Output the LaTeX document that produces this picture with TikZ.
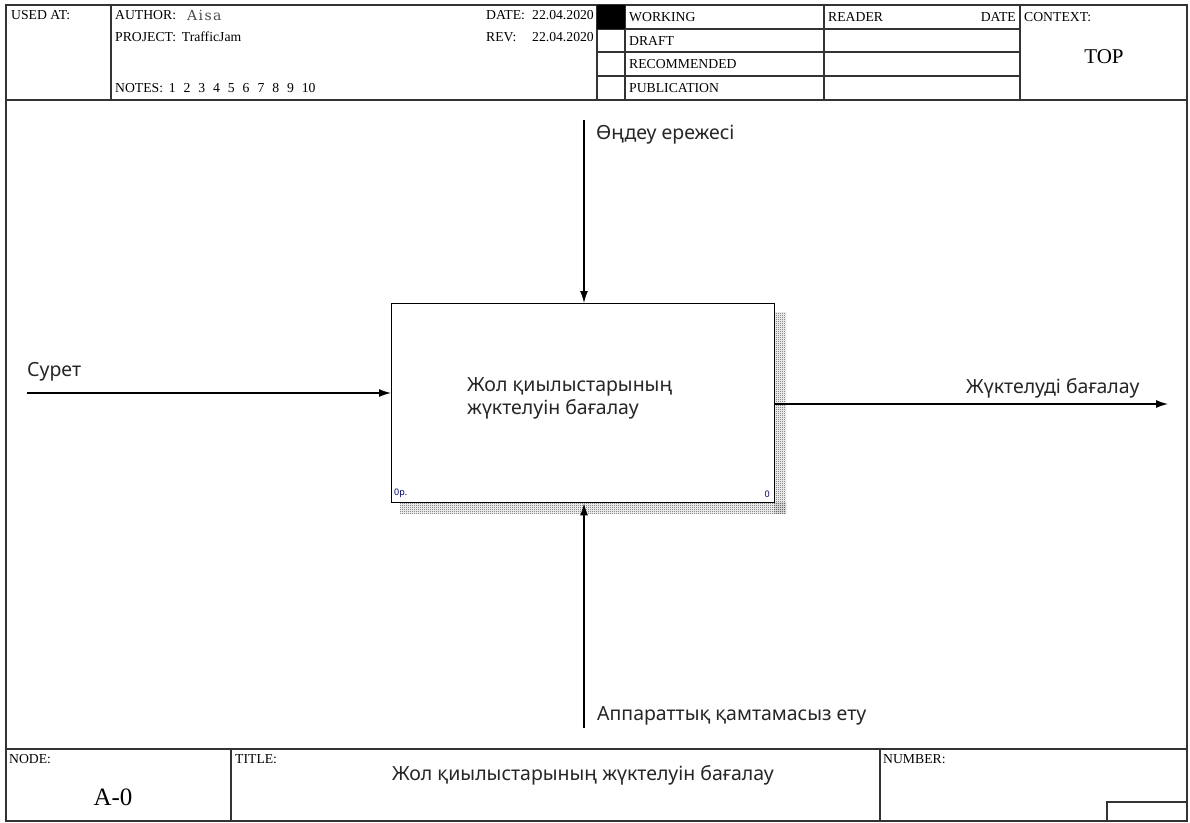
\documentclass[tikz,border=0pt]{standalone}
\usepackage{fontspec}
\setmainfont{Liberation Serif}
\newfontfamily\labelfont{Noto Sans}
\newfontfamily\namefont[LetterSpace=10]{DejaVu Serif}
\usetikzlibrary{arrows.meta,patterns}

% fine checkerboard used for the box shadow
\pgfdeclarepatternformonly{fineck}{\pgfqpoint{0pt}{0pt}}{\pgfqpoint{2pt}{2pt}}{\pgfqpoint{2pt}{2pt}}{%
  \pgfpathrectangle{\pgfpointorigin}{\pgfqpoint{1pt}{1pt}}%
  \pgfpathrectangle{\pgfqpoint{1pt}{1pt}}{\pgfqpoint{1pt}{1pt}}%
  \pgfusepath{fill}}

\tikzset{
  frame/.style={draw=black!80, line width=1.6pt},
  grid/.style={draw=black!80, line width=1.1pt},
  hdr/.style={font=\fontsize{13.7}{16}\selectfont, inner sep=0pt, anchor=west},
  lbl/.style={font=\labelfont\fontsize{19.5}{23}\selectfont, inner sep=0pt, text=black!85},
  arr/.style={line width=1.3pt, -{Latex[length=12pt,width=8pt]}},
  actbox/.style={draw, line width=1.4pt, fill=white, anchor=north west,
    minimum width=383pt, minimum height=199pt, inner sep=0pt},
  shadow/.style={pattern=fineck, pattern color=black!70},
  corner/.style={font=\labelfont\fontsize{9}{10}\selectfont, inner sep=0pt, text=blue!40!black}
}

\begin{document}
\begin{tikzpicture}[x=1pt, y=-1pt]
\useasboundingbox (0,0) rectangle (1190,822);

% outer frame
\draw[frame] (6,5) rectangle (1187,821);

% header block
\draw[frame] (6,100) -- (1187,100);
\foreach \xx in {111,597,625,824,1020} \draw[grid] (\xx,5) -- (\xx,100);
\foreach \yy in {29,52,76} \draw[grid] (597,\yy) -- (1020,\yy);
\fill[black] (597,5) rectangle (625,29);

\node[hdr] (usedat) at (11,15) {USED AT:};
\node[hdr] (author) at (115,15) {AUTHOR:};
\node[hdr, font=\namefont\fontsize{14}{16}\selectfont, text=black!70] (aisa) at (187,15) {Aisa};
\node[hdr] (project) at (115,37) {PROJECT:\, TrafficJam};
\node[hdr] (notes) at (115,88) {NOTES:\, 1\hspace{4.5pt} 2\hspace{4.5pt} 3\hspace{4.5pt} 4\hspace{4.5pt} 5\hspace{4.5pt} 6\hspace{4.5pt} 7\hspace{4.5pt} 8\hspace{4.5pt} 9\hspace{4.5pt} 10};
\node[hdr] (datelbl) at (486,15) {DATE:};
\node[hdr, anchor=east] (dateval) at (594,15) {22.04.2020};
\node[hdr] (revlbl) at (486,37) {REV:};
\node[hdr, anchor=east] (revval) at (594,37) {22.04.2020};

\node[hdr] (working) at (629,17) {WORKING};
\node[hdr] (draft) at (629,41) {DRAFT};
\node[hdr] (recommended) at (629,64) {RECOMMENDED};
\node[hdr] (publication) at (629,88) {PUBLICATION};
\node[hdr] (reader) at (828,17) {READER};
\node[hdr, anchor=east] (readerdate) at (1016,17) {DATE};
\node[hdr] (context) at (1024,17) {CONTEXT:};
\node[font=\fontsize{21}{24}\selectfont, inner sep=0pt] (top) at (1104,57) {TOP};

% footer block
\draw[frame] (6,749) -- (1187,749);
\draw[grid] (231,749) -- (231,822);
\draw[grid] (880,749) -- (880,822);
\draw[grid] (1107,822) -- (1107,802) -- (1187,802);

\node[hdr] (nodelbl) at (9,759) {NODE:};
\node[hdr] (titlelbl) at (235,759) {TITLE:};
\node[hdr] (numberlbl) at (883,759) {NUMBER:};
\node[font=\fontsize{25}{28}\selectfont, inner sep=0pt] (nodeval) at (113,797) {A-0};
\node[lbl] (titleval) at (583,775) {Жол қиылыстарының жүктелуін бағалау};

% activity box with its hatched shadow
\fill[shadow] (774,312) rectangle (786,513);
\fill[shadow] (400,502) rectangle (786,513);
\node[actbox] (act) at (391,303) {};
\node[lbl, anchor=west, align=left] (acttext) at (467,398)
  {Жол қиылыстарының\\жүктелуін бағалау};
\node[corner, anchor=south west] (actref) at (394,498) {0р.};
\node[corner, anchor=south east] (actnum) at (770,498) {0};

% input
\coordinate (inS) at (27,393);
\draw[arr] (inS) -- (inS -| act.west);
\node[lbl, anchor=west] (inlbl) at (27,372) {Сурет};

% output
\coordinate (outE) at (1168,404);
\draw[arr] (outE -| act.east) -- (outE);
\node[lbl, anchor=west] (outlbl) at (966,388) {Жүктелуді бағалау};

% control
\coordinate (ctlS) at (584,120);
\draw[arr] (ctlS) -- (ctlS |- act.north);
\node[lbl, anchor=west] (ctllbl) at (596,135) {Өңдеу ережесі};

% mechanism
\coordinate (mechS) at (584,728);
\draw[arr] (mechS) -- (mechS |- act.south);
\node[lbl, anchor=west] (mechlbl) at (597,716) {Аппараттық қамтамасыз ету};
\end{tikzpicture}
\end{document}
